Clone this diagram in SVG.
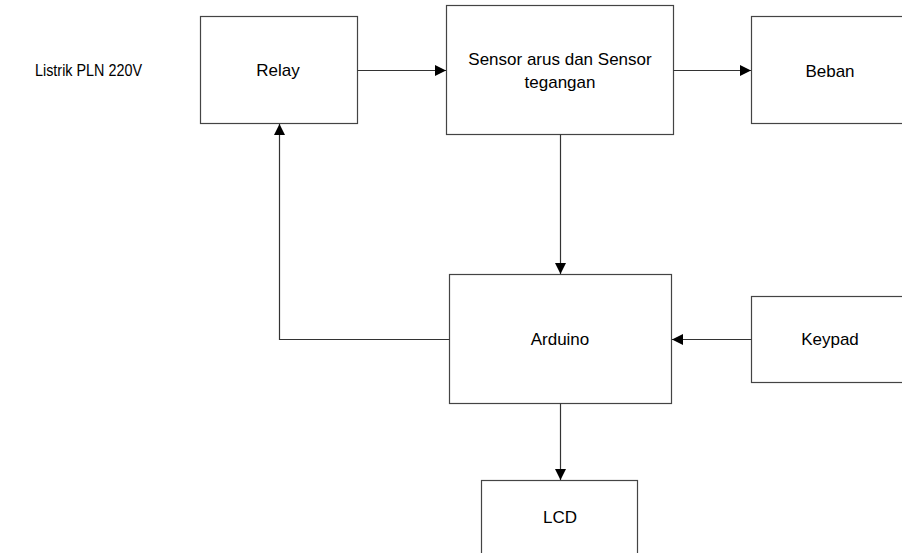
<svg xmlns="http://www.w3.org/2000/svg" width="902" height="553" viewBox="0 0 902 553">
<style>
.box{fill:#fff;stroke:#444;stroke-width:1.2}
.t{font-family:"Liberation Sans",Arial,sans-serif;font-size:17px;fill:#000;text-anchor:middle;dominant-baseline:central}
.c{fill:none;stroke:#333;stroke-width:1.2}
</style>
<defs>
<marker id="ah" viewBox="0 0 10 10" refX="10" refY="5" markerWidth="11" markerHeight="11" markerUnits="userSpaceOnUse" orient="auto">
<path d="M0,0 L10,5 L0,10 Z" fill="#000"/>
</marker>
</defs>
<rect width="902" height="553" fill="#fff"/>
<g id="listrik"><text class="t" x="35" y="70" style="text-anchor:start" textLength="107" lengthAdjust="spacingAndGlyphs">Listrik PLN 220V</text></g>
<g id="relay"><rect class="box" x="200.5" y="16.5" width="157" height="107"/><text class="t" x="278" y="70">Relay</text></g>
<g id="sensor"><rect class="box" x="446.5" y="5.5" width="227" height="129"/><text class="t" x="560" y="59">Sensor arus dan Sensor</text><text class="t" x="560" y="82">tegangan</text></g>
<g id="beban"><rect class="box" x="751.5" y="16.5" width="160" height="107"/><text class="t" x="830" y="71">Beban</text></g>
<g id="arduino"><rect class="box" x="449.5" y="274.5" width="222" height="129"/><text class="t" x="560" y="339">Arduino</text></g>
<g id="keypad"><rect class="box" x="751.5" y="296.5" width="160" height="86"/><text class="t" x="830" y="339">Keypad</text></g>
<g id="lcd"><rect class="box" x="481.5" y="480.5" width="156" height="90"/><text class="t" x="560" y="517">LCD</text></g>
<g id="connectors">
<path class="c" d="M357.5,70.5 H446" marker-end="url(#ah)"/>
<path class="c" d="M673.5,70.5 H751" marker-end="url(#ah)"/>
<path class="c" d="M560.5,134.5 V274" marker-end="url(#ah)"/>
<path class="c" d="M449.5,339.5 H279.5 V124" marker-end="url(#ah)"/>
<path class="c" d="M751.5,339.5 H672" marker-end="url(#ah)"/>
<path class="c" d="M560.5,403.5 V480" marker-end="url(#ah)"/>
</g>
</svg>
